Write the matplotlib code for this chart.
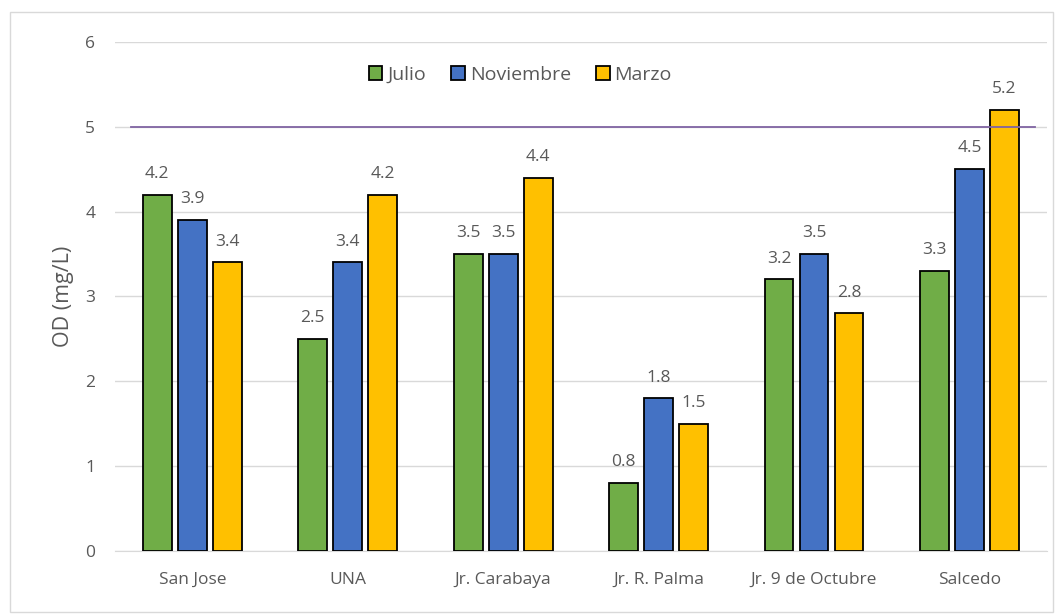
import matplotlib.pyplot as plt
import numpy as np
from matplotlib.patches import Rectangle

sites = ['San Jose', 'UNA', 'Jr. Carabaya', 'Jr. R. Palma', 'Jr. 9 de Octubre', 'Salcedo']
julio = [4.2, 2.5, 3.5, 0.8, 3.2, 3.3]
noviembre = [3.9, 3.4, 3.5, 1.8, 3.5, 4.5]
marzo = [3.4, 4.2, 4.4, 1.5, 2.8, 5.2]
limite = 5.0

plt.rcParams['font.family'] = ['Open Sans', 'DejaVu Sans']
txt = '#595959'

fig = plt.figure(figsize=(10.61, 6.15), dpi=100)
ax = fig.add_axes([0.108, 0.104, 0.879, 0.828])

x = np.arange(len(sites))
w = 0.185
step = 0.225
series = [('Julio', julio, '#70AD47'), ('Noviembre', noviembre, '#4472C4'), ('Marzo', marzo, '#FFC000')]
for i, (name, vals, col) in enumerate(series):
    bars = ax.bar(x + (i - 1) * step, vals, w, color=col, edgecolor='black', linewidth=1.3,
                  label=name, zorder=3)
    for b, v in zip(bars, vals):
        ax.text(b.get_x() + b.get_width() / 2, v + 0.15, f'{v:.1f}', ha='center', va='bottom',
                fontsize=12.5, color=txt)

# limit line at 5 mg/L
ax.axhline(limite, xmin=0.018, xmax=0.987, color='#8064A2', linewidth=1.3, zorder=4)

ax.set_xlim(-0.5, len(sites) - 0.5)
ax.set_ylim(0, 6)
ax.set_yticks(range(7))
ax.yaxis.grid(True, color='#D9D9D9', linewidth=1)
ax.set_axisbelow(True)
for s in ['top', 'right', 'left']:
    ax.spines[s].set_visible(False)
ax.spines['bottom'].set_color('#D9D9D9')
ax.tick_params(axis='both', length=0, colors=txt, labelsize=12.5)
ax.tick_params(axis='x', pad=15)
ax.tick_params(axis='y', pad=14)
ax.set_xticks(x)
ax.set_xticklabels(sites)
ax.set_ylabel('OD (mg/L)', fontsize=15.5, color=txt, labelpad=8)

ax.legend(loc='center', bbox_to_anchor=(0.435, 0.935), ncol=3, frameon=False,
          fontsize=14, labelcolor=txt, handlelength=0.7, handleheight=0.7,
          handletextpad=0.25, columnspacing=1.3)

fig.patches.append(Rectangle((0.0095, 0.005), 0.983, 0.975, transform=fig.transFigure,
                             fill=False, edgecolor='#D9D9D9', linewidth=1))

plt.savefig('out.png', dpi=100)
